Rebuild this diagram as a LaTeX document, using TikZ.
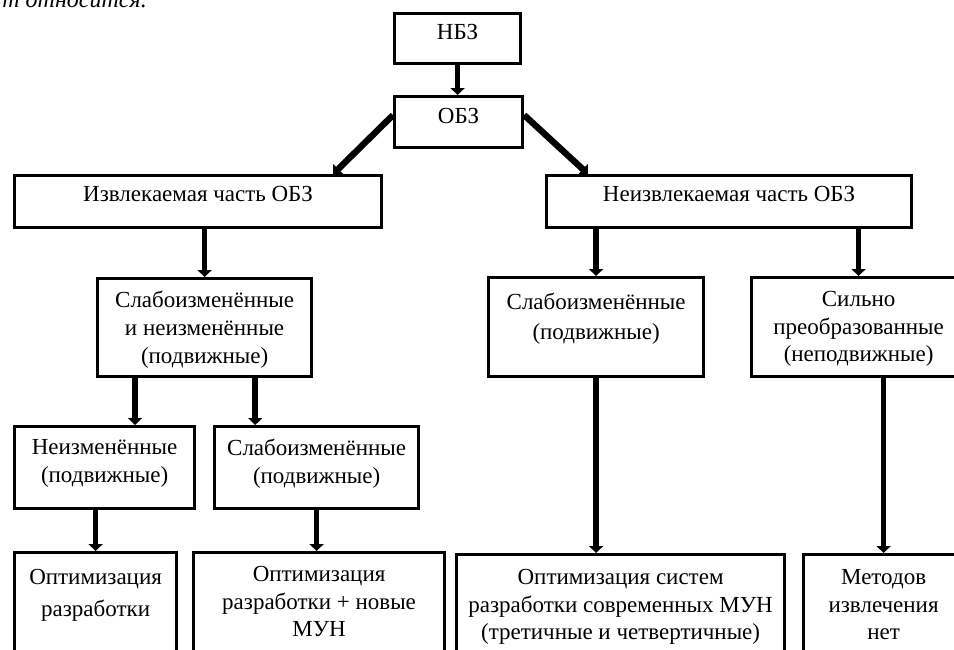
\documentclass[tikz,border=0pt]{standalone}
\usepackage{fontspec}
\setmainfont{Liberation Serif}
\usetikzlibrary{positioning,arrows.meta,calc}

\begin{document}
\begin{tikzpicture}[x=0.5pt,y=0.5pt,yscale=-1,
  box/.style={draw,line width=1.6pt,anchor=north west,inner sep=0pt},
  txt/.style={inner sep=0pt,align=center,font=\fontsize{11.5}{13.8}\selectfont},
  arr/.style={line width=2.8pt,-{Triangle[width=7pt,length=3.5pt]}}]
\useasboundingbox (0,0) rectangle (954,649);
\clip (0,0) rectangle (954,649);

% Text Node
\node[anchor=base west,inner sep=0pt,font=\fontsize{12}{14}\selectfont\itshape] (frag) at (2,7) {т относится.};

%Rect
\node[box,minimum width=63pt,minimum height=25pt] (nbz) at (393,12) {};
%Rect
\node[box,minimum width=64pt,minimum height=25.5pt] (obz) at (393,95) {};
%Rect
\node[box,minimum width=183.5pt,minimum height=26pt] (izvl) at (13,174) {};
%Rect
\node[box,minimum width=182.5pt,minimum height=26pt] (neizvl) at (545,174) {};
%Rect
\node[box,minimum width=107pt,minimum height=49pt] (mid) at (96,277) {};
%Rect
\node[box,minimum width=107.5pt,minimum height=49.5pt] (slabR) at (487,276) {};
%Rect
\node[box,minimum width=107pt,minimum height=49.5pt] (silno) at (750,276) {};
%Rect
\node[box,minimum width=90pt,minimum height=41pt] (neizm) at (13,425) {};
%Rect
\node[box,minimum width=102pt,minimum height=41pt] (slabL) at (213,425) {};
%Rect
\node[box,minimum width=81pt,minimum height=75pt] (opt1) at (13,551) {};
%Rect
\node[box,minimum width=125.5pt,minimum height=75pt] (opt2) at (192,551) {};
%Rect
\node[box,minimum width=164pt,minimum height=75pt] (opt3) at (455,553) {};
%Rect
\node[box,minimum width=80pt,minimum height=75pt] (metod) at (802,553) {};

% Text Node
\node[txt,below=6pt of nbz.north] (nbz-t) {НБЗ};
% Text Node
\node[txt,below=6.5pt of obz.north] (obz-t) {ОБЗ};
% Text Node
\node[txt,below=6pt of izvl.north] (izvl-t) {Извлекаемая часть ОБЗ};
% Text Node
\node[txt,below=6pt of neizvl.north] (neizvl-t) {Неизвлекаемая часть ОБЗ};
% Text Node
\node[txt,below=7pt of mid.north] (mid-t) {Слабоизменённые\\и неизменённые\\(подвижные)};
% Text Node
\node[txt,below=8.5pt of slabR.north] (slabR-t) {Слабоизменённые\\[1pt](подвижные)};
% Text Node
\node[txt,below=7.5pt of silno.north] (silno-t) {Сильно\\преобразованные\\(неподвижные)};
% Text Node
\node[txt,below=7pt of neizm.north] (neizm-t) {Неизменённые\\(подвижные)};
% Text Node
\node[txt,below=7pt of slabL.north] (slabL-t) {Слабоизменённые\\(подвижные)};
% Text Node
\node[txt,below=9pt of opt1.north] (opt1-t) {Оптимизация\\[2pt]разработки};
% Text Node
\node[txt,below=7.5pt of opt2.north] (opt2-t) {Оптимизация\\разработки + новые\\МУН};
% Text Node
\node[txt,below=8pt of opt3.north] (opt3-t) {Оптимизация систем\\разработки современных МУН\\(третичные и четвертичные)};
% Text Node
\node[txt,below=8pt of metod.north] (metod-t) {Методов\\извлечения\\нет};

\coordinate (m1) at ($(mid.south west)+(39,0)$);
\coordinate (m2) at ($(mid.south east)+(-58,0)$);

%Straight Lines
\draw[arr] (nbz.south) -- (nbz.south |- obz.north);
\draw[arr,line width=3.2pt] ($(obz.west)+(0,-7)$) -- ($(izvl.north east)+(-50,0)$);
\draw[arr,line width=3.2pt] ($(obz.east)+(0,-7)$) -- ($(neizvl.north west)+(43,0)$);
\draw[arr] (izvl.south -| mid.north) -- (mid.north);
\draw[arr] (neizvl.south -| slabR.north) -- (slabR.north);
\draw[arr] (neizvl.south -| silno.north) -- (silno.north);
\draw[arr] (m1) -- (m1 |- neizm.north);
\draw[arr] (m2) -- (m2 |- slabL.north);
\draw[arr] (neizm.south -| opt1.north) -- (opt1.north);
\draw[arr] (slabL.south) -- (slabL.south |- opt2.north);
\draw[arr] (slabR.south) -- (slabR.south |- opt3.north);
\draw[arr] (silno.south -| metod.north) -- (metod.north);

\end{tikzpicture}
\end{document}
